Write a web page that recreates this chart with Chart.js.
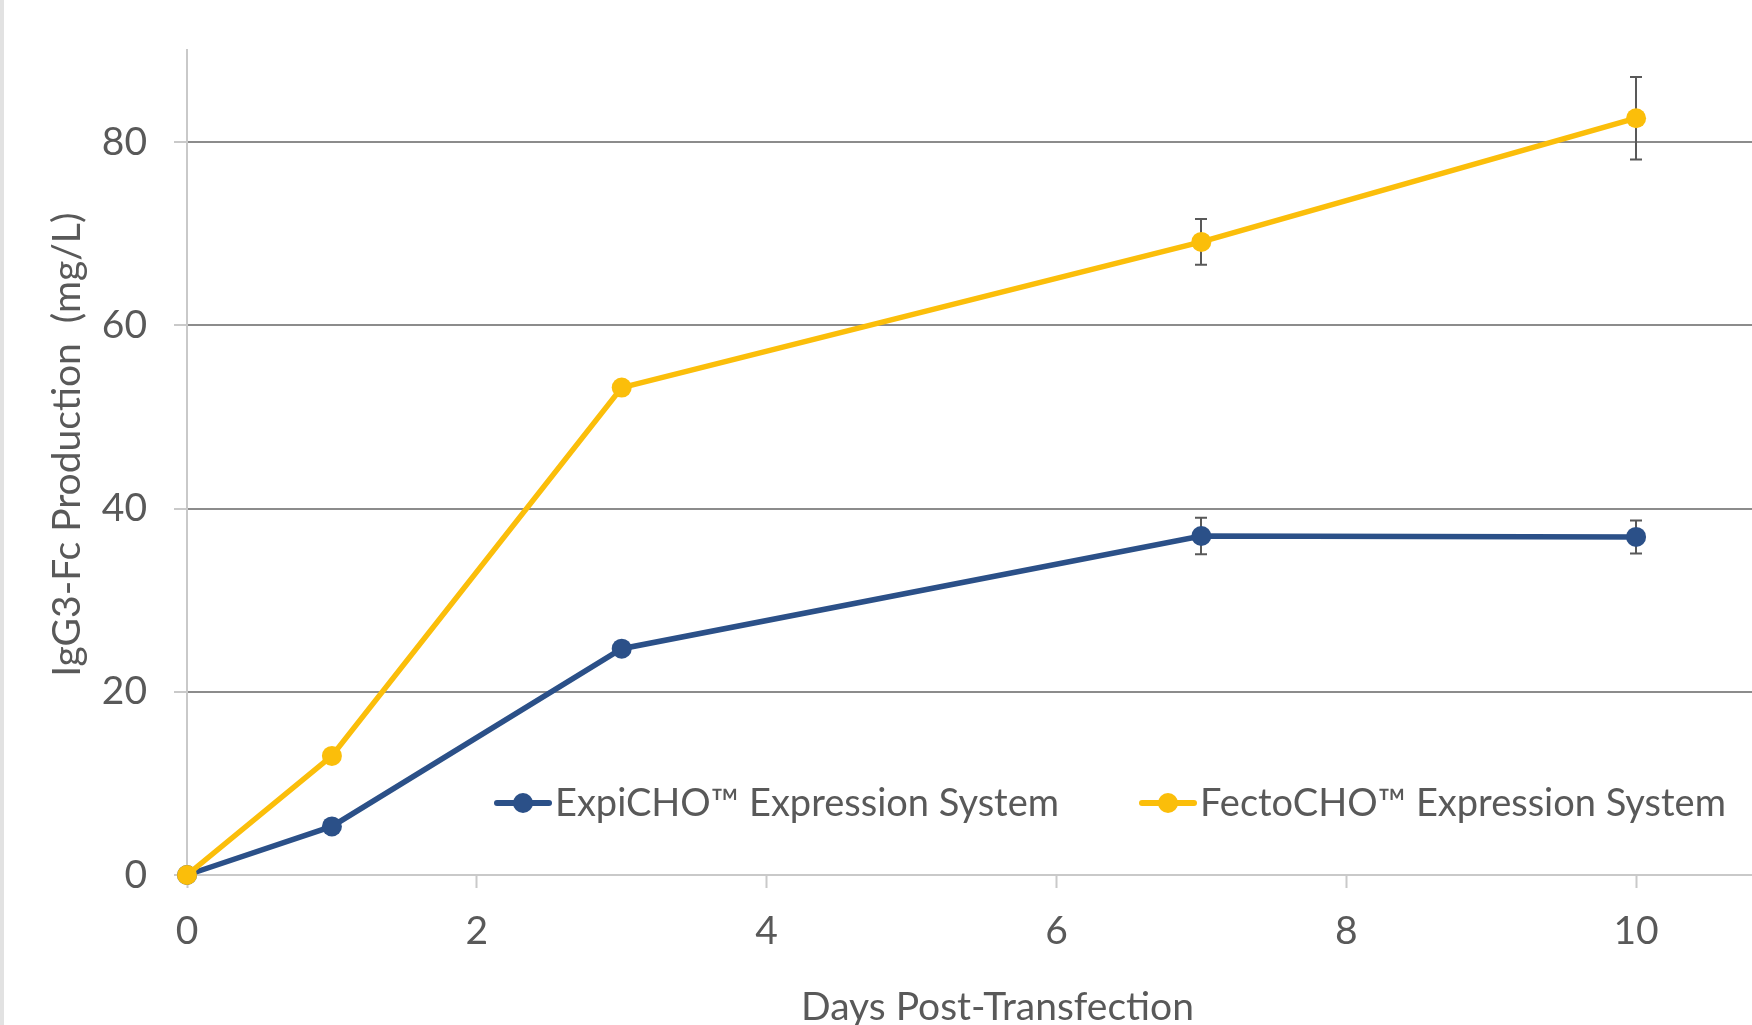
<!DOCTYPE html>
<html>
<head>
<meta charset="utf-8">
<script src="https://cdn.jsdelivr.net/npm/chart.js@4.4.0/dist/chart.umd.min.js"></script>
<style>
    html, body { margin: 0; padding: 0; background: #fff; overflow: hidden; }
    #wrap { position: relative; width: 1752px; height: 1025px; overflow: hidden; }
    #chart { display: block; }
    #edge { position: absolute; left: 0; top: 0; width: 4px; height: 100%; background: #e2e2e2; }
</style>
</head>
<body>
<div id="wrap"><canvas id="chart" width="1752" height="1025"></canvas><div id="edge"></div></div>
<script>
// values
const days = [0, 1, 3, 7, 10];
const expiValues = [0, 5.3, 24.7, 37.0, 36.9];
const expiErrors = [0, 0, 0, 2.0, 1.8];
const fectoValues = [0, 13.0, 53.2, 69.1, 82.6];
const fectoErrors = [0, 0, 0, 2.5, 4.5];
const xTicks = [0, 2, 4, 6, 8, 10];
const yTicks = [0, 20, 40, 60, 80];

const FONT = "Lato, 'Open Sans', sans-serif";
const SIZE = 39;
const TEXT = "#595959";
const AXIS = "#c9c9c9";

// draws the +/- error bars under the lines
const errorBars = {
    id: "errorBars",
    beforeDatasetsDraw(chart) {
        const ctx = chart.ctx;
        const xs = chart.scales.x;
        const ys = chart.scales.y;
        ctx.save();
        ctx.strokeStyle = "#595959";
        ctx.lineWidth = 2;
        chart.data.datasets.forEach(ds => {
            (ds.errors || []).forEach((err, i) => {
                if (!err) return;
                const pt = ds.data[i];
                const px = Math.round(xs.getPixelForValue(pt.x));
                const top = ys.getPixelForValue(pt.y + err);
                const bot = ys.getPixelForValue(pt.y - err);
                ctx.beginPath();
                ctx.moveTo(px, top);
                ctx.lineTo(px, bot);
                ctx.moveTo(px - 6, top);
                ctx.lineTo(px + 6, top);
                ctx.moveTo(px - 6, bot);
                ctx.lineTo(px + 6, bot);
                ctx.stroke();
            });
        });
        ctx.restore();
    }
};

// legend sits inside the plot, like the Excel original
const insideLegend = {
    id: "insideLegend",
    afterDatasetsDraw(chart, args, opts) {
        const ctx = chart.ctx;
        ctx.save();
        ctx.font = opts.font;
        ctx.textBaseline = "middle";
        ctx.textAlign = "left";
        chart.data.datasets.forEach((ds, i) => {
            const x = opts.x[i];
            const y = opts.y;
            ctx.strokeStyle = ds.borderColor;
            ctx.lineWidth = 6;
            ctx.lineCap = "round";
            ctx.beginPath();
            ctx.moveTo(x, y);
            ctx.lineTo(x + 52, y);
            ctx.stroke();
            ctx.fillStyle = ds.borderColor;
            ctx.beginPath();
            ctx.arc(x + 26, y, 10, 0, Math.PI * 2);
            ctx.fill();
            ctx.fillStyle = TEXT;
            ctx.fillText(ds.label, x + 58, y + 1);
        });
        ctx.restore();
    }
};

// axis titles are a bit off-centre in the original, so place them by hand
const axisTitles = {
    id: "axisTitles",
    afterDraw(chart, args, opts) {
        const ctx = chart.ctx;
        const area = chart.chartArea;
        ctx.save();
        ctx.font = SIZE + "px " + FONT;
        ctx.fillStyle = TEXT;
        ctx.textAlign = "center";
        ctx.textBaseline = "middle";
        ctx.fillText(opts.xText, (area.left + area.right) / 2 + opts.xShift, opts.xY);
        ctx.translate(opts.yX, (area.top + area.bottom) / 2 - opts.yLift);
        ctx.rotate(-Math.PI / 2);
        ctx.fillText(opts.yText, 0, 0);
        ctx.restore();
    }
};

const toPoints = (vals) => days.map((d, i) => ({ x: d, y: vals[i] }));

new Chart(document.getElementById("chart"), {
    type: "line",
    data: {
        datasets: [
            {
                label: "ExpiCHO™ Expression System",
                data: toPoints(expiValues),
                errors: expiErrors,
                borderColor: "#2b5088",
                backgroundColor: "#2b5088",
                borderWidth: 5.5,
                pointRadius: 10,
                pointHoverRadius: 10,
                pointBorderWidth: 0,
                tension: 0,
                clip: false,
                order: 2,
            },
            {
                label: "FectoCHO™ Expression System",
                data: toPoints(fectoValues),
                errors: fectoErrors,
                borderColor: "#fbbe0a",
                backgroundColor: "#fbbe0a",
                borderWidth: 5.5,
                pointRadius: 10,
                pointHoverRadius: 10,
                pointBorderWidth: 0,
                tension: 0,
                clip: false,
                order: 1,
            }
        ]
    },
    options: {
        responsive: false,
        devicePixelRatio: 1,
        animation: false,
        layout: { autoPadding: false, padding: { left: 0, top: 42, right: 0, bottom: 0 } },
        plugins: {
            legend: { display: false },
            tooltip: { enabled: false },
            insideLegend: { x: [497, 1142], y: 803, font: "38px " + FONT },
            axisTitles: {
                xText: "Days Post-Transfection", xShift: 28, xY: 1007,
                yText: "IgG3-Fc Production  (mg/L)", yX: 67, yLift: 18,
            },
        },
        scales: {
            x: {
                type: "linear",
                min: 0,
                max: 10.8,
                afterBuildTicks: (axis) => { axis.ticks = xTicks.map(v => ({ value: v })); },
                afterFit: (axis) => {
                    axis.height = 150;
                    axis.paddingLeft = 0;
                    axis.paddingRight = 0;
                },
                grid: { drawOnChartArea: false, drawTicks: true, tickLength: 13, tickColor: AXIS, tickWidth: 2 },
                border: { color: AXIS, width: 2 },
                ticks: { color: TEXT, font: { family: FONT, size: SIZE }, padding: 20, maxRotation: 0 },
            },
            y: {
                min: 0,
                max: 90,
                afterBuildTicks: (axis) => { axis.ticks = yTicks.map(v => ({ value: v })); },
                afterFit: (axis) => { axis.width = 187; },
                grid: { color: "#8c8c8c", lineWidth: 2, drawTicks: true, tickLength: 13, tickColor: AXIS, tickWidth: 2 },
                border: { color: AXIS, width: 2 },
                ticks: { color: TEXT, font: { family: FONT, size: SIZE }, padding: 27 },
            }
        }
    },
    plugins: [errorBars, insideLegend, axisTitles]
});
</script>
</body>
</html>
